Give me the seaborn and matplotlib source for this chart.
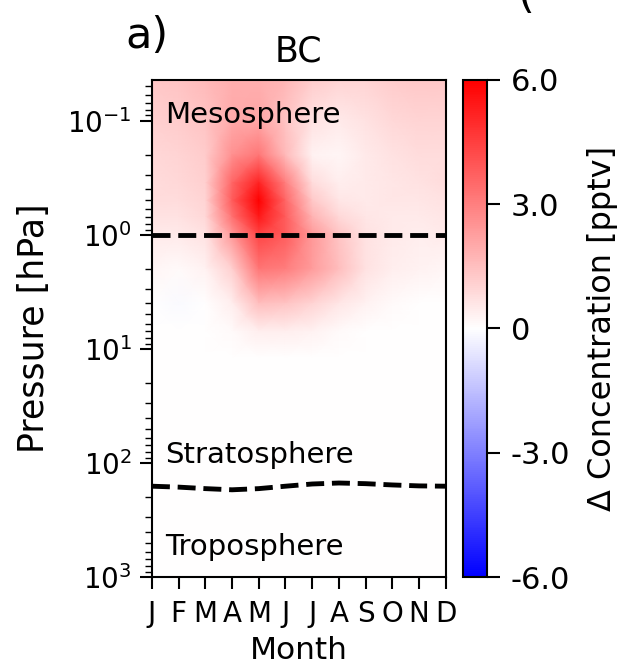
import numpy as np
import pandas as pd
import matplotlib
matplotlib.use("Agg")
import matplotlib.pyplot as plt
import seaborn as sns

# ---------------- data ----------------
months = [1, 2, 3, 4, 5, 6, 7, 8, 9, 10, 11, 12]
month_labels = ["J", "F", "M", "A", "M", "J", "J", "A", "S", "O", "N", "D"]
pressure_hPa = [0.044, 0.1, 0.2, 0.35, 0.5, 0.7, 1.0, 2.0, 4.0, 7.0, 12.0, 100.0, 1000.0]

d_p0044 = [1.3, 1.4, 1.6, 1.9, 1.9, 1.7, 1.2, 1.0, 1.0, 1.2, 1.3, 1.3]
d_p01   = [1.1, 1.2, 1.4, 2.0, 2.1, 1.4, 0.7, 0.5, 0.7, 0.9, 1.0, 1.0]
d_p02   = [0.9, 1.0, 1.2, 2.6, 3.2, 1.6, 0.3, 0.2, 0.5, 0.7, 0.8, 0.8]
d_p035  = [0.8, 0.9, 1.1, 3.6, 5.2, 3.0, 0.8, 0.4, 0.5, 0.6, 0.7, 0.8]
d_p05   = [0.8, 0.8, 1.0, 3.8, 6.0, 3.6, 1.3, 0.6, 0.5, 0.6, 0.6, 0.7]
d_p07   = [0.7, 0.7, 0.9, 3.3, 5.4, 3.8, 1.8, 0.9, 0.6, 0.5, 0.5, 0.6]
d_p1    = [0.5, 0.5, 0.7, 2.4, 4.4, 3.8, 2.4, 1.4, 0.7, 0.5, 0.4, 0.5]
d_p2    = [0.2, 0.1, 0.3, 1.1, 3.2, 3.0, 2.3, 1.5, 0.7, 0.4, 0.3, 0.2]
d_p4    = [0.0, -0.1, 0.0, 0.4, 1.5, 1.4, 1.0, 0.6, 0.3, 0.1, 0.0, 0.0]
d_p7    = [0.0, 0.0, 0.0, 0.1, 0.4, 0.4, 0.3, 0.1, 0.0, 0.0, 0.0, 0.0]
d_p12   = [0.0] * 12
d_p100  = [0.0] * 12
d_p1000 = [0.0] * 12

tropopause_hPa = [160, 163, 168, 172, 168, 160, 153, 150, 152, 156, 159, 160]
stratopause_hPa = [1.0] * 12

cbar_ticks = [-6, -3, 0, 3, 6]
cbar_ticklabels = ["-6.0", "-3.0", "0", "3.0", "6.0"]

# ---------------- plot ----------------
sns.set_style("ticks")
plt.rcParams["font.family"] = ["DejaVu Sans"]
for key in ("text.color", "axes.labelcolor", "xtick.color", "ytick.color", "axes.edgecolor"):
    plt.rcParams[key] = "black"

fig = plt.figure(figsize=(6.2, 6.69), dpi=100)
ax = fig.add_axes([0.245, 0.1375, 0.474, 0.743])
cax = fig.add_axes([0.746, 0.1375, 0.040, 0.743])

Z = np.array([d_p0044, d_p01, d_p02, d_p035, d_p05, d_p07, d_p1, d_p2,
              d_p4, d_p7, d_p12, d_p100, d_p1000])
X, Y = np.meshgrid(months, pressure_hPa)
mesh = ax.pcolormesh(X, Y, Z, cmap="bwr", vmin=-6, vmax=6, shading="gouraud")

df_trop = pd.DataFrame({"month": months, "p": tropopause_hPa})
df_strat = pd.DataFrame({"month": months, "p": stratopause_hPa})
for df in (df_trop, df_strat):
    sns.lineplot(data=df, x="month", y="p", ax=ax, color="black",
                 linewidth=3.5, dashes=False)
for ln in ax.lines:
    ln.set_dashes((3.7, 1.6))

ax.set_yscale("log")
ax.set_ylim(1000, 0.044)
ax.set_xlim(1, 12)
ax.set_xticks(months)
ax.set_xticklabels(month_labels)
ax.set_yticks([0.1, 1, 10, 100, 1000])
ax.set_xlabel("Month", fontsize=22.5, labelpad=6)
ax.set_ylabel("Pressure [hPa]", fontsize=25, labelpad=12)
ax.tick_params(axis="both", which="major", width=1.5, length=8.5, color="black")
ax.tick_params(axis="x", labelsize=20, pad=8)
ax.tick_params(axis="y", labelsize=20, pad=6)
ax.tick_params(axis="y", which="minor", width=1.0, length=5)
for s in ax.spines.values():
    s.set_linewidth(1.5)
    s.set_color("black")
ax.set_title("BC", fontsize=25, pad=13)

ax.text(0.044, 0.93, "Mesosphere", transform=ax.transAxes, fontsize=21, va="center", ha="left")
ax.text(0.044, 0.245, "Stratosphere", transform=ax.transAxes, fontsize=21, va="center", ha="left")
ax.text(0.044, 0.06, "Troposphere", transform=ax.transAxes, fontsize=21, va="center", ha="left")

cb = fig.colorbar(mesh, cax=cax, ticks=cbar_ticks)
cb.ax.set_yticklabels(cbar_ticklabels)
cb.ax.tick_params(labelsize=22, width=1.5, length=9, pad=8)
cb.outline.set_linewidth(1.5)
cb.set_label("Δ Concentration [pptv]", fontsize=23, labelpad=12)

fig.text(0.2016, 0.928, "a)", fontsize=31, ha="left", va="baseline")
fig.text(0.835, 0.9875, "(", fontsize=31, ha="left", va="baseline")

fig.savefig("out.png", dpi=100)
